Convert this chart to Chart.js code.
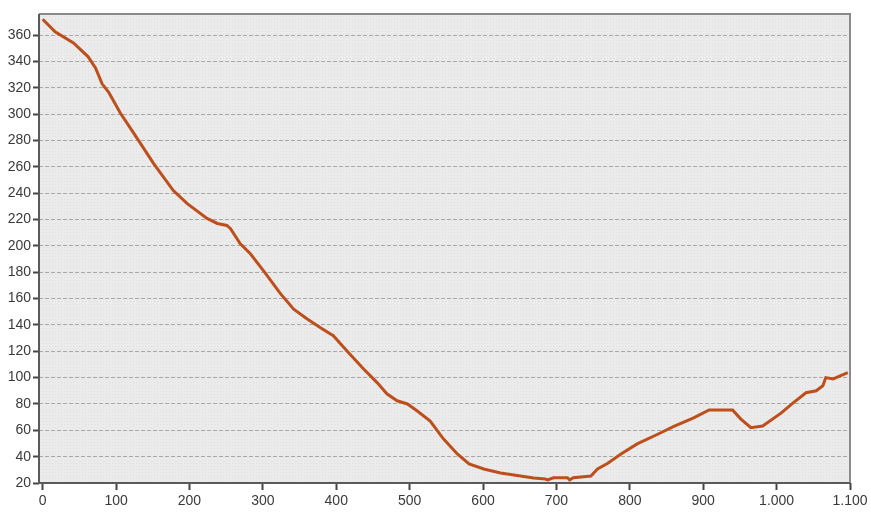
<!DOCTYPE html>
<html>
<head>
<meta charset="utf-8">
<script src="https://cdn.jsdelivr.net/npm/chart.js@4"></script>
<style>
  html, body { margin: 0; padding: 0; background: #ffffff; }
  #wrap { width: 871px; height: 513px; }
</style>
</head>
<body>
<div id="wrap"><canvas id="profile" width="871" height="513"></canvas></div>
<script>
// distance along the route and elevation
const distances = [0, 17, 42, 62, 72, 81, 90, 106, 117, 133, 151, 178, 197, 224, 238, 251, 256, 269, 283, 301,
  324, 342, 360, 378, 396, 415, 437, 456, 469, 483, 497, 510, 528, 546, 565, 581, 601, 624, 651, 669,
  685, 688, 696, 715, 718, 723, 747, 756, 770, 788, 810, 838, 860, 887, 908, 940, 951, 965, 981, 1006,
  1023, 1040, 1054, 1063, 1067, 1077, 1097];
const elevations = [372, 362.5, 354, 343.5, 335, 323, 316.6, 300.6, 291.5, 278, 262.6, 242, 232, 220.8, 217, 215.5, 213, 201.8, 194, 181,
  163.7, 152, 144.7, 138, 131.8, 120, 106.7, 96, 87.7, 82.4, 80, 74.8, 67, 53.5, 42, 34.5, 30.6, 27.6, 25.3, 23.8,
  23, 22.4, 24, 24, 22.4, 24, 25.3, 30.6, 35, 42, 49.7, 57, 63, 69.4, 75.5, 75.5, 68.7, 62, 63.3, 73,
  81, 88.5, 90, 93.8, 100, 99, 103.7];
const xTicks = [0, 100, 200, 300, 400, 500, 600, 700, 800, 900, 1000, 1100];
const yTicks = [20, 40, 60, 80, 100, 120, 140, 160, 180, 200, 220, 240, 260, 280, 300, 320, 340, 360];

const points = distances.map((d, i) => ({ x: d, y: elevations[i] }));

// thousands with a dot, like 1.000
const fmt = v => String(v).replace(/\B(?=(\d{3})+(?!\d))/g, '.');

// dotted light gray fill behind the plot
const patCanvas = document.createElement('canvas');
patCanvas.width = 3; patCanvas.height = 3;
const pctx = patCanvas.getContext('2d');
pctx.fillStyle = '#ebebeb';
pctx.fillRect(0, 0, 3, 3);
pctx.fillStyle = '#dfdfdf';
pctx.fillRect(1, 1, 1, 1);

const plotFrame = {
  id: 'plotFrame',
  beforeDraw(chart) {
    const { ctx, chartArea: a } = chart;
    ctx.save();
    ctx.fillStyle = ctx.createPattern(patCanvas, 'repeat');
    ctx.fillRect(a.left, a.top, a.right - a.left, a.bottom - a.top);
    ctx.restore();
  },
  beforeDatasetsDraw(chart) {
    const { ctx, chartArea: a } = chart;
    ctx.save();
    ctx.lineWidth = 2;
    ctx.strokeStyle = '#8a8a8a';
    ctx.beginPath();
    ctx.moveTo(a.left, a.top);
    ctx.lineTo(a.right, a.top);
    ctx.lineTo(a.right, a.bottom);
    ctx.stroke();
    ctx.strokeStyle = '#5a5a5a';
    ctx.beginPath();
    ctx.moveTo(a.left, a.top);
    ctx.lineTo(a.left, a.bottom);
    ctx.lineTo(a.right, a.bottom);
    ctx.stroke();
    ctx.restore();
  }
};

new Chart(document.getElementById('profile'), {
  type: 'line',
  data: {
    datasets: [{
      data: points,
      borderColor: '#bd4f1c',
      borderWidth: 3,
      pointRadius: 0,
      tension: 0,
      fill: false
    }]
  },
  options: {
    responsive: false,
    devicePixelRatio: 1,
    animation: false,
    layout: { padding: { top: 14, right: 21, left: 0, bottom: 0 } },
    plugins: { legend: { display: false }, tooltip: { enabled: false } },
    scales: {
      x: {
        type: 'linear',
        min: -5,
        max: 1100,
        afterBuildTicks: s => { s.ticks = xTicks.map(v => ({ value: v })); },
        afterFit: s => { s.height = 30; },
        ticks: {
          callback: v => fmt(v),
          color: '#3a3a3a',
          font: { family: 'Liberation Sans', size: 14 },
          padding: 3,
          maxRotation: 0,
          autoSkip: false
        },
        grid: { drawOnChartArea: false, drawTicks: true, tickLength: 7, tickColor: '#444', tickWidth: 2 },
        border: { display: false }
      },
      y: {
        min: 20,
        max: 376,
        afterBuildTicks: s => { s.ticks = yTicks.map(v => ({ value: v })); },
        afterFit: s => { s.width = 39; },
        ticks: {
          color: '#3a3a3a',
          font: { family: 'Liberation Sans', size: 14 },
          padding: 2
        },
        grid: { color: '#a8a8a8', lineWidth: 1, drawTicks: true, tickLength: 6, tickColor: '#444', tickWidth: 2 },
        border: { display: false, dash: [4, 2] }
      }
    }
  },
  plugins: [plotFrame]
});
</script>
</body>
</html>
